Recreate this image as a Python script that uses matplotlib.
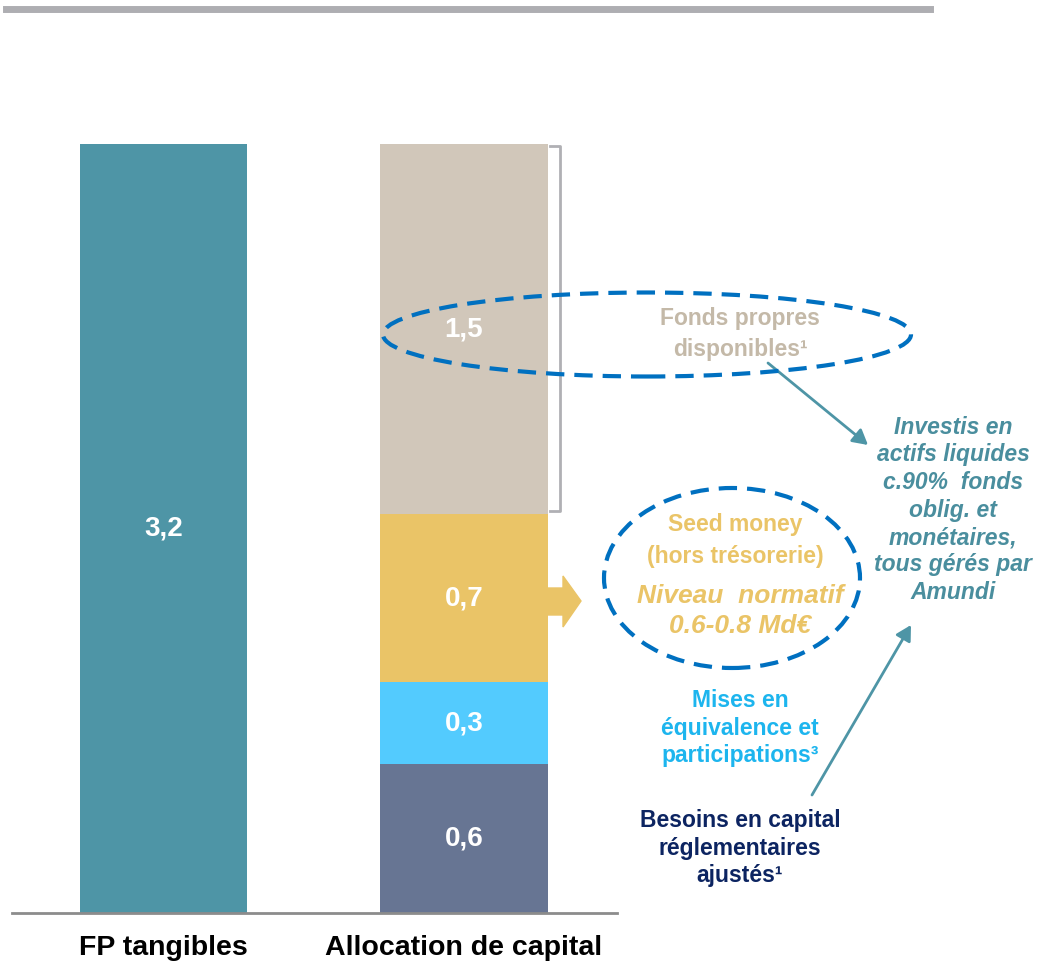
import matplotlib.pyplot as plt
from matplotlib.patches import Ellipse, Polygon, FancyArrowPatch

plt.rcParams['font.family'] = ['Liberation Sans', 'DejaVu Sans']

# data
categories = ['FP tangibles', 'Allocation de capital']
fp_total = 3.2
fp_label = '3,2'
alloc_values = [0.62, 0.34, 0.70, 1.54]
alloc_labels = ['0,6', '0,3', '0,7', '1,5']
alloc_colors = ['#677593', '#53CBFE', '#EAC467', '#D1C7BA']
fp_color = '#4E95A6'

W, H = 1038, 963
fig = plt.figure(figsize=(W / 100, H / 100), dpi=100)
ax = fig.add_axes([0, 0, 1, 1])
# pixel mapping: x=0 -> 163.5px, 1 unit = 300.5px ; y=0 -> 913px from top, 1 unit = 240.3px
ax.set_xlim(-163.5 / 300.5, (W - 163.5) / 300.5)
ax.set_ylim(-50 / 240.3, (H - 50) / 240.3)
ax.axis('off')

bw = 0.556
ax.bar(0, fp_total, width=bw, color=fp_color, zorder=2)
ax.text(0, fp_total / 2, fp_label, color='white', fontsize=20, fontweight='bold',
        ha='center', va='center', zorder=5)

bottom = 0
for v, lab, c in zip(alloc_values, alloc_labels, alloc_colors):
    ax.bar(1, v, width=bw, bottom=bottom, color=c, zorder=2)
    ax.text(1.0, bottom + v / 2, lab, color='white', fontsize=20, fontweight='bold',
            ha='center', va='center', zorder=5)
    bottom += v

# baseline
ax.plot([-0.505, 1.51], [0, 0], color='#8C8C8C', lw=2, zorder=3, clip_on=False)

# category labels
for i, cat in enumerate(categories):
    ax.text(i, -0.145, cat, color='black', fontsize=20.5, fontweight='bold',
            ha='center', va='center')

tf = fig.transFigure


def fx(x):
    return x / W


def fy(y):
    return 1 - y / H


# top grey rule
fig.add_artist(plt.Line2D([fx(6), fx(930)], [fy(9), fy(9)], color='#AEAEB2', lw=5))

# bracket around available equity
top_alloc = sum(alloc_values)
y0 = alloc_values[0] + alloc_values[1] + alloc_values[2]
xb = 1 + bw / 2 + 0.043
ax.plot([xb - 0.035, xb, xb, xb - 0.035], [top_alloc - 0.01, top_alloc - 0.01, y0 + 0.012, y0 + 0.012],
        color='#B0B0B4', lw=2, zorder=3)

# yellow block arrow next to seed money segment
pts = [(548, 588), (563, 588), (563, 576), (581, 601), (563, 627), (563, 615), (548, 615)]
fig.add_artist(Polygon([(fx(a), fy(b)) for a, b in pts], closed=True, color='#EAC467', transform=tf))

# dashed ellipses
dash = (0, (4.4, 2.4))
fig.add_artist(Ellipse((fx(647), fy(334.5)), 528 / W, 84 / H, fill=False, ec='#0070C0',
                       lw=3, ls=dash, transform=tf, zorder=6))
fig.add_artist(Ellipse((fx(732), fy(578)), 256 / W, 180 / H, fill=False, ec='#0070C0',
                       lw=3, ls=dash, transform=tf, zorder=6))

# annotation texts
fig.text(fx(740), fy(334), 'Fonds propres\ndisponibles\u00b9', color='#C4B9A8', fontsize=16.5,
         fontweight='bold', ha='center', va='center', linespacing=1.4)
fig.text(fx(735), fy(540.5), 'Seed money\n(hors trésorerie)', color='#EAC467', fontsize=16.5,
         fontweight='bold', ha='center', va='center', linespacing=1.45)
fig.text(fx(740), fy(611), 'Niveau  normatif\n0.6-0.8 Md€', color='#EAC467', fontsize=19,
         fontweight='bold', style='italic', ha='center', va='center', linespacing=1.3)
fig.text(fx(740), fy(728), 'Mises en\néquivalence et\nparticipations\u00b3', color='#1DB5EE', fontsize=16.5,
         fontweight='bold', ha='center', va='center', linespacing=1.25)
fig.text(fx(740), fy(848), 'Besoins en capital\nréglementaires\najustés\u00b9', color='#0C2461', fontsize=16.5,
         fontweight='bold', ha='center', va='center', linespacing=1.25)
fig.text(fx(953), fy(510), 'Investis en\nactifs liquides\nc.90%  fonds\noblig. et\nmonétaires,\ntous gérés par\nAmundi',
         color='#4A8E9E', fontsize=16.5, fontweight='bold', style='italic', ha='center', va='center',
         linespacing=1.25)

# arrows
for (xa, ya), (xt, yt) in [((768, 363), (868, 445)), ((812, 795), (911, 625))]:
    fig.add_artist(FancyArrowPatch((fx(xa), fy(ya)), (fx(xt), fy(yt)), transform=tf,
                                   arrowstyle='-|>,head_length=9,head_width=5', color='#4E95A6',
                                   lw=2, mutation_scale=1, shrinkA=0, shrinkB=0))

fig.savefig('out.png', dpi=100)
